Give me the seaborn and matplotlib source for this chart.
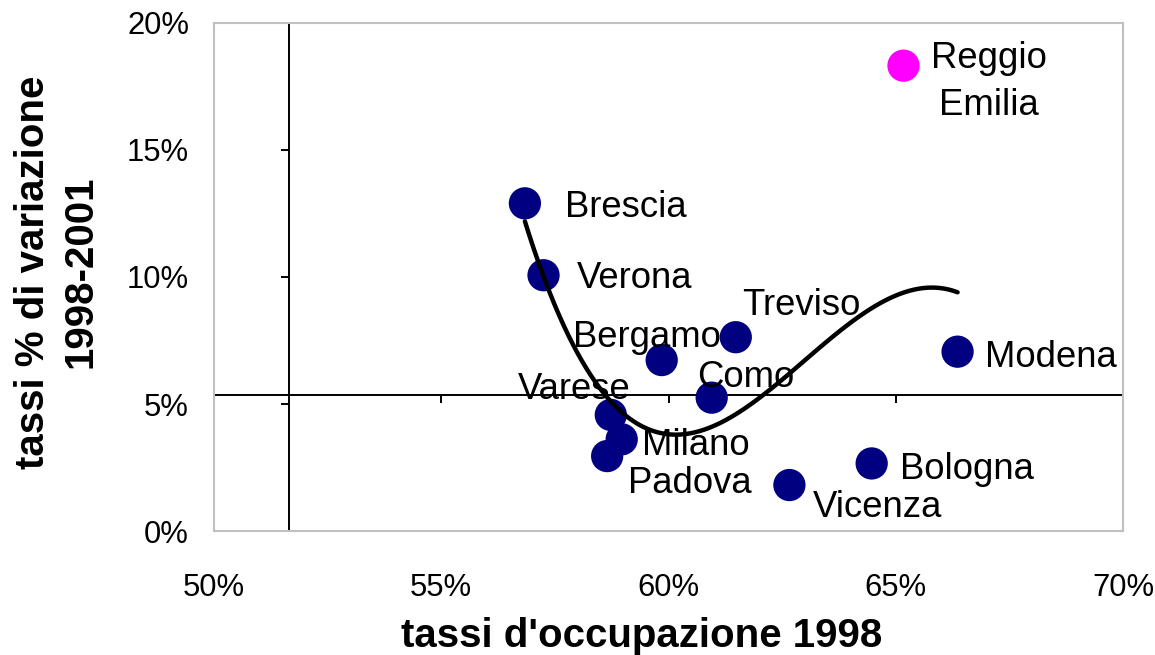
import numpy as np
import pandas as pd
import matplotlib
matplotlib.use("Agg")
import matplotlib.pyplot as plt
import seaborn as sns

# Province data: employment rate 1998 and % change 1998-2001
cities = ["Brescia", "Verona", "Bergamo", "Treviso", "Como", "Varese",
          "Milano", "Padova", "Vicenza", "Bologna", "Modena", "Reggio\nEmilia"]
occupazione_1998 = [0.5684, 0.5725, 0.5985, 0.6148, 0.6095, 0.5873,
                    0.5897, 0.5865, 0.6266, 0.6447, 0.6636, 0.6517]
variazione_98_01 = [0.1290, 0.1007, 0.0673, 0.0763, 0.0525, 0.0457,
                    0.0361, 0.0295, 0.0181, 0.0266, 0.0706, 0.1832]
gruppo = ["altre"] * 11 + ["Reggio Emilia"]

x_ticks = [0.50, 0.55, 0.60, 0.65, 0.70]
x_tick_labels = ["50%", "55%", "60%", "65%", "70%"]
y_ticks = [0.00, 0.05, 0.10, 0.15, 0.20]
y_tick_labels = ["0%", "5%", "10%", "15%", "20%"]

# where the two reference axes cross
cross_x = 0.5166
cross_y = 0.0534

df = pd.DataFrame({"citta": cities, "occ": occupazione_1998,
                   "var": variazione_98_01, "gruppo": gruppo})

# label placement (pixel offsets from each point, horizontal alignment)
label_style = {
    "Brescia": (40, -4, "left"),
    "Verona": (33, -3, "left"),
    "Bergamo": (-89, 23, "left"),
    "Treviso": (6, 32, "left"),
    "Como": (-15, 20, "left"),
    "Varese": (-93, 25, "left"),
    "Milano": (20, -6, "left"),
    "Padova": (21, -27, "left"),
    "Vicenza": (23, -22, "left"),
    "Bologna": (28, -6, "left"),
    "Modena": (27, -6, "left"),
    "Reggio\nEmilia": (85, -16, "center"),
}

sns.set_style("white")
plt.rcParams["font.family"] = ["Liberation Sans", "DejaVu Sans"]
plt.rcParams["text.color"] = "black"

fig = plt.figure(figsize=(11.55, 6.55), dpi=100)
rect = [0.1853, 0.1893, 0.787, 0.7756]

# background axes: the two crossing reference lines with their tick marks
ax_bg = fig.add_axes(rect)
ax_bg.set_xlim(0.50, 0.70)
ax_bg.set_ylim(0.0, 0.20)
for side in ("top", "right"):
    ax_bg.spines[side].set_visible(False)
ax_bg.spines["left"].set_position(("data", cross_x))
ax_bg.spines["bottom"].set_position(("data", cross_y))
for side in ("left", "bottom"):
    ax_bg.spines[side].set_color("black")
    ax_bg.spines[side].set_linewidth(1.4)
ax_bg.set_xticks(x_ticks)
ax_bg.set_yticks(y_ticks)
ax_bg.tick_params(axis="both", direction="out", length=6, width=1.4,
                  color="black", labelleft=False, labelbottom=False,
                  left=True, bottom=True)

# main axes: points, trend line, labels, gray frame
ax = fig.add_axes(rect, sharex=ax_bg, sharey=ax_bg)
ax.patch.set_alpha(0)

sns.scatterplot(data=df, x="occ", y="var", hue="gruppo",
                palette={"altre": "#000080", "Reggio Emilia": "#FF00FF"},
                s=540, linewidth=0, legend=False, ax=ax, zorder=3)
sns.regplot(data=df, x="occ", y="var", order=3, scatter=False, ci=None,
            truncate=True, line_kws=dict(color="black", lw=3.2), ax=ax)
ax.lines[-1].set_zorder(4)

for name, xv, yv in zip(cities, occupazione_1998, variazione_98_01):
    dx, dy, ha = label_style[name]
    ax.annotate(name, (xv, yv), xytext=(dx, dy), textcoords="offset pixels",
                ha=ha, va="center", multialignment="center", linespacing=1.45,
                fontsize=26.3, color="black", zorder=5)

ax.set_xlim(0.50, 0.70)
ax.set_ylim(0.0, 0.20)
ax.set_xticks(x_ticks)
ax.set_xticklabels(x_tick_labels)
ax.set_yticks(y_ticks)
ax.set_yticklabels(y_tick_labels)
ax.tick_params(axis="both", length=0, labelsize=22.3, colors="black")
ax.tick_params(axis="x", pad=30)
ax.tick_params(axis="y", pad=18)
ax.set_xlabel("")
ax.set_ylabel("")
for side in ax.spines.values():
    side.set_visible(True)
    side.set_color("#C0C0C0")
    side.set_linewidth(1.5)

fig.text(642 / 1155, 1 - 636 / 655, "tassi d'occupazione 1998",
         ha="center", va="center", fontsize=29, fontweight="bold",
         color="black")
fig.text(57 / 1155, 1 - 272 / 655, "tassi % di variazione\n1998-2001",
         ha="center", va="center", rotation=90, multialignment="center",
         linespacing=1.3, fontsize=29, fontweight="bold", color="black")

fig.savefig("out.png", dpi=100, facecolor="white")
